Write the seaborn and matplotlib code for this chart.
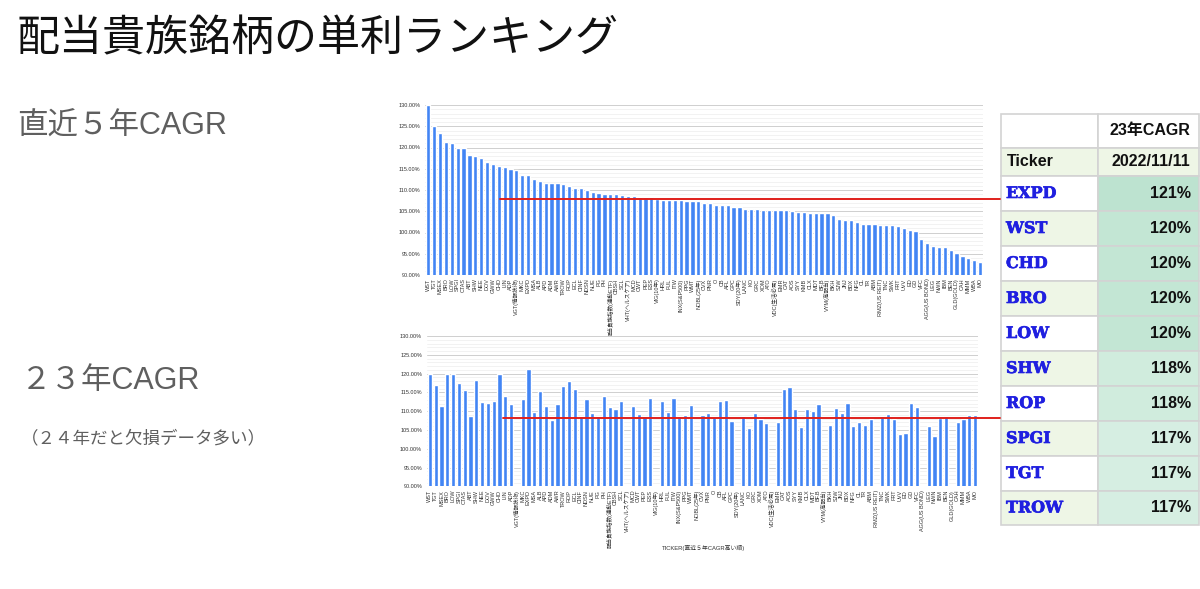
import numpy as np
import pandas as pd
import matplotlib
matplotlib.use("Agg")
import matplotlib.pyplot as plt
import matplotlib.transforms as mtransforms
import matplotlib.patheffects as pe
from matplotlib.lines import Line2D
from matplotlib.patches import Rectangle
from matplotlib.ticker import MultipleLocator, FuncFormatter
import seaborn as sns

nan = np.nan

TICKERS = [
    "WST", "TGT", "MSEX", "BRO", "LOW", "SPGI", "CTAS", "ABT", "SHW", "NEE",
    "DOV", "GWW", "CHD", "LIN", "ADP", "VGT(情報技術)", "MKC", "EXPD", "MSA", "ALB",
    "APD", "ADM", "AWR", "TROW", "ROP", "ECL", "CINF", "NDSN", "NUE", "PG",
    "PH", "配当貴族指数(連動ETF)", "CBSH", "SCL", "VHT(ヘルスケア)", "MCD", "CWT", "PEP", "ESS", "VIG(10年)",
    "HRL", "FUL", "ITW", "INX(S&P500)", "PPG", "WMT", "NOBL(25年)", "CVX", "PNR", "O",
    "CB", "AFL", "GPC", "SDY(20年)", "LANC", "KO", "GRC", "XOM", "ATO", "VDC(生活必需)",
    "EMR", "CAT", "AOS", "SYY", "KMB", "CLX", "MDT", "BF.B", "VYM(高配当)", "BKH",
    "SJW", "JNJ", "BDX", "NFG", "CL", "TR", "ABM", "RMZ(US REIT)", "TNC", "SWK",
    "FRT", "UVV", "ED", "GD", "VFC", "AGG(US BOND)", "LEG", "NWN", "IBM", "BEN",
    "GLD(GOLD)", "CAH", "MMM", "WBA", "MO",
]

CAGR_5Y = [
    130.0, 125.1, 123.4, 121.2, 121.0, 120.0, 120.0, 118.2, 117.9, 117.5,
    116.7, 116.2, 115.7, 115.5, 115.0, 114.7, 113.5, 113.5, 112.6, 112.2,
    111.7, 111.6, 111.6, 111.3, 110.9, 110.5, 110.4, 110.1, 109.5, 109.3,
    109.1, 109.0, 109.0, 108.8, 108.7, 108.6, 108.4, 108.3, 108.3, 107.9,
    107.7, 107.7, 107.7, 107.7, 107.5, 107.3, 107.3, 107.0, 107.0, 106.5,
    106.5, 106.5, 106.0, 105.9, 105.6, 105.5, 105.5, 105.4, 105.4, 105.4,
    105.4, 105.2, 105.1, 104.9, 104.8, 104.7, 104.6, 104.6, 104.6, 104.1,
    103.1, 103.0, 102.9, 102.5, 102.1, 102.0, 101.9, 101.8, 101.8, 101.8,
    101.5, 101.1, 100.6, 100.4, 98.5, 97.5, 96.8, 96.7, 96.7, 96.0,
    95.2, 94.5, 94.1, 93.5, 93.0,
]

CAGR_23Y = [
    120.0, 117.0, 111.3, 120.0, 119.9, 117.4, 115.6, 108.6, 118.4, 112.4,
    112.1, 112.8, 120.0, 114.1, 111.9, nan, 113.2, 121.3, 109.8, 115.3,
    111.3, 107.6, 111.9, 116.6, 118.1, 116.0, 108.6, 113.2, 109.6, 108.7,
    114.0, 111.1, 110.7, 112.6, nan, 111.4, 109.3, 108.8, 113.5, nan,
    112.7, 109.8, 113.5, 108.7, 109.1, 111.6, nan, 108.9, 109.6, 108.4,
    112.7, 113.0, 107.3, nan, 108.7, 105.4, 109.6, 107.8, 106.8, nan,
    107.1, 115.8, 116.4, 110.7, 105.9, 110.5, 110.0, 111.9, nan, 106.3,
    110.8, 109.5, 112.1, 106.0, 107.0, 106.2, 108.0, nan, 108.7, 109.2,
    107.9, 103.9, 104.1, 112.3, 111.0, nan, 106.0, 103.5, 108.2, 108.6,
    nan, 107.0, 107.8, 109.0, 109.0,
]

Y_TICKS = [90, 95, 100, 105, 110, 115, 120, 125, 130]
REF_5Y = 107.8
REF_23Y = 108.3
REF_5Y_FROM = "CHD"
REF_23Y_FROM = "LIN"

TABLE_HEADER = "23年CAGR"
TABLE_DATE = "2022/11/11"
TABLE_TICKERS = ["EXPD", "WST", "CHD", "BRO", "LOW", "SHW", "ROP", "SPGI", "TGT", "TROW"]
TABLE_VALUES = [121, 120, 120, 120, 120, 118, 118, 117, 117, 117]

BLUE = "#4285F4"
RED = "#e0201c"

sns.set_theme(style="white")
plt.rcParams["font.family"] = ["Liberation Sans", "Noto Sans CJK JP"]

W, H = 1200, 589
fig = plt.figure(figsize=(W / 100, H / 100), dpi=100)
fig.patch.set_facecolor("white")


def fx(px):
    return px / W


def fy(py):
    return 1 - py / H


ax1 = fig.add_axes([fx(425.4), fy(275), fx(983) - fx(425.4), fy(105) - fy(275)])
ax2 = fig.add_axes([fx(427), fy(486.3), fx(978) - fx(427), fy(336) - fy(486.3)])

pct = FuncFormatter(lambda v, p: f"{v:.2f}%")

for ax, vals in ((ax1, CAGR_5Y), (ax2, CAGR_23Y)):
    df = pd.DataFrame({"ticker": TICKERS, "cagr": vals})
    sns.barplot(data=df, x="ticker", y="cagr", order=TICKERS, color=BLUE,
                saturation=1, width=0.72, errorbar=None, ax=ax, zorder=2)
    ax.set_xlim(-0.5, len(TICKERS) - 0.5)
    ax.set_ylim(90, 130)
    ax.set_yticks(Y_TICKS)
    ax.yaxis.set_major_formatter(pct)
    ax.yaxis.set_minor_locator(MultipleLocator(1))
    ax.grid(axis="y", which="major", color="#cfcfcf", lw=0.7, zorder=0)
    ax.grid(axis="y", which="minor", color="#ededed", lw=0.5, zorder=0)
    ax.grid(axis="x", visible=False)
    ax.set_axisbelow(True)
    for s in ax.spines.values():
        s.set_visible(False)
    ax.set_xlabel("")
    ax.set_ylabel("")
    ax.tick_params(axis="x", labelrotation=90, labelsize=4, length=0, pad=2.5, colors="#333333")
    ax.tick_params(axis="y", which="both", labelsize=4, length=0, pad=3.5, colors="#333333")
    ax.set_facecolor("white")


def ref_line(ax, y, start_ticker, offset):
    x0 = TICKERS.index(start_ticker) + offset
    x0_fig = fig.transFigure.inverted().transform(ax.transData.transform((x0, y)))[0]
    trans = mtransforms.blended_transform_factory(fig.transFigure, ax.transData)
    fig.add_artist(Line2D([x0_fig, fx(1000)], [y, y], transform=trans,
                          color=RED, lw=1.4, clip_on=False, zorder=5))


ref_line(ax1, REF_5Y, REF_5Y_FROM, 0.2)
ref_line(ax2, REF_23Y, REF_23Y_FROM, -0.4)

fig.text(fx(704), fy(548), "TICKER(直近５年CAGR高い順)", fontsize=4.2,
         ha="center", va="center", color="#333333")

# Left-hand texts
cjk = ["Noto Sans CJK JP", "DejaVu Sans"]
mixed = ["Liberation Sans", "Noto Sans CJK JP"]
fig.text(fx(17), fy(39), "配当貴族銘柄の単利ランキング", fontsize=31, family=cjk,
         ha="left", va="center", color="#111111")
fig.text(fx(17), fy(127), "直近５年CAGR", fontsize=22, family=mixed,
         ha="left", va="center", color="#5f5f5f")
fig.text(fx(21), fy(381), "２３年CAGR", fontsize=22, family=mixed,
         ha="left", va="center", color="#5f5f5f")
fig.text(fx(21), fy(438), "（２４年だと欠損データ多い）", fontsize=12.6, family=cjk,
         ha="left", va="center", color="#5f5f5f")

# Table
rows_y = [114, 148, 176, 211, 246, 281, 316, 351, 386, 421, 456, 491, 525]
col_x = [1001, 1098, 1199]
BAND = "#eef6e6"
BORDER = "#d3d3d3"
lo_c = np.array([0.84, 0.935, 0.885])
hi_c = np.array([0.74, 0.89, 0.815])
vmin, vmax = min(TABLE_VALUES), max(TABLE_VALUES)


def cell(x0, x1, y0, y1, color):
    fig.add_artist(Rectangle((fx(x0), fy(y1)), fx(x1) - fx(x0), fy(y0) - fy(y1),
                             transform=fig.transFigure, facecolor=color,
                             edgecolor=BORDER, lw=1.2, zorder=3))


cell(col_x[0], col_x[1], rows_y[0], rows_y[1], "white")
cell(col_x[1], col_x[2], rows_y[0], rows_y[1], "white")
cell(col_x[0], col_x[1], rows_y[1], rows_y[2], BAND)
cell(col_x[1], col_x[2], rows_y[1], rows_y[2], BAND)

hdr = dict(fontsize=11.5, fontweight="bold", color="#111111", va="center", zorder=6,
           family=["Liberation Sans", "Noto Sans CJK JP"])
fig.text(fx(1190), fy((rows_y[0] + rows_y[1]) / 2), TABLE_HEADER, ha="right", **hdr)
fig.text(fx(1007), fy((rows_y[1] + rows_y[2]) / 2), "Ticker", ha="left", **hdr)
fig.text(fx(1190), fy((rows_y[1] + rows_y[2]) / 2), TABLE_DATE, ha="right", **hdr)

TICK_BLUE = "#1f1fe0"
for i, (t, v) in enumerate(zip(TABLE_TICKERS, TABLE_VALUES)):
    y0, y1 = rows_y[i + 2], rows_y[i + 3]
    cell(col_x[0], col_x[1], y0, y1, "white" if i % 2 == 0 else BAND)
    f = (v - vmin) / (vmax - vmin) if vmax > vmin else 1
    c = lo_c + (hi_c - lo_c) * f
    cell(col_x[1], col_x[2], y0, y1, tuple(c))
    yc = fy((y0 + y1) / 2)
    fig.text(fx(1006), yc, t, ha="left", va="center", fontsize=11.5, fontweight="bold",
             family=["DejaVu Serif"], color=TICK_BLUE, zorder=6,
             path_effects=[pe.withStroke(linewidth=0.45, foreground=TICK_BLUE)])
    fig.text(fx(1191), yc, f"{v}%", ha="right", va="center", fontsize=11.5,
             fontweight="bold", family=["Liberation Sans"], color="#111111", zorder=6)

fig.savefig("out.png", dpi=100, facecolor="white")
